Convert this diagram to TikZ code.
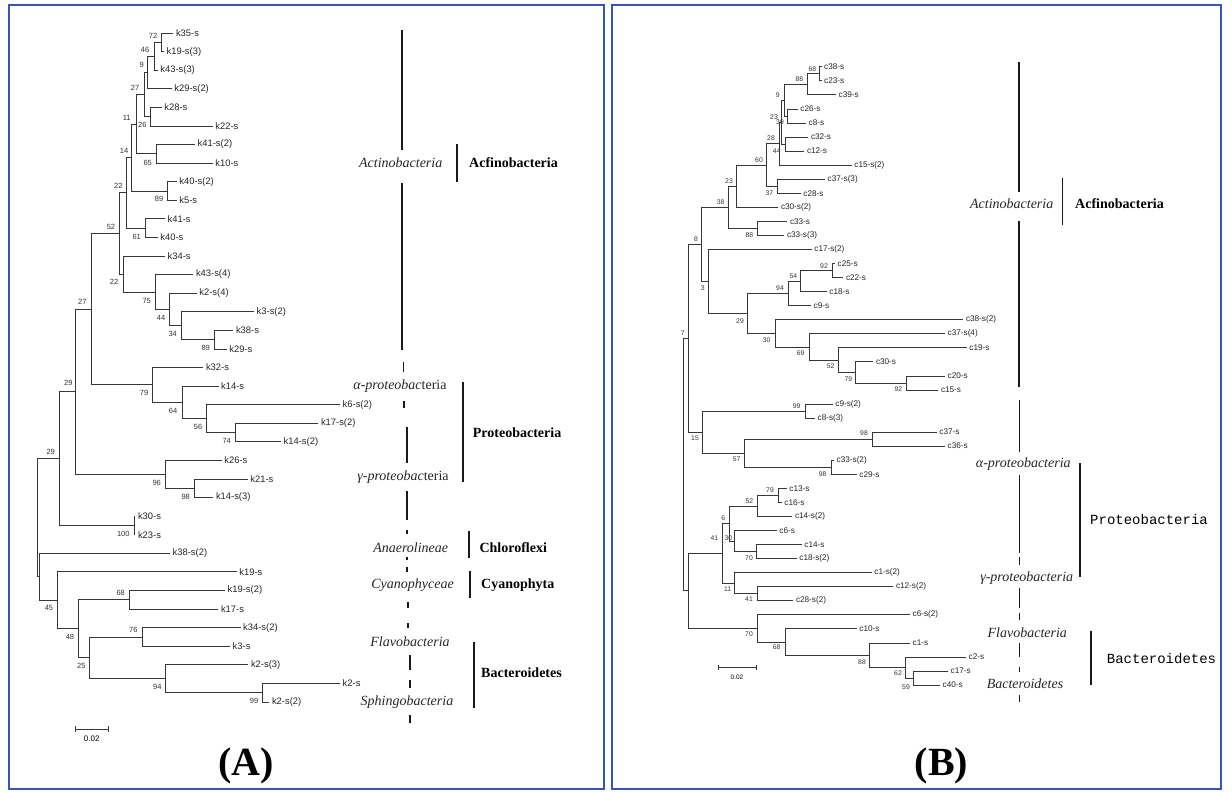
\documentclass[tikz,border=0pt]{standalone}
\usepackage{fontspec}
\setmainfont{Liberation Serif}
\newfontfamily\sansA{Liberation Sans}
\newfontfamily\monoA{Liberation Mono}
\usetikzlibrary{calc}
\definecolor{frameblue}{RGB}{55,85,185}
\definecolor{treegray}{RGB}{55,55,55}
\tikzset{
 br/.style={draw=treegray, line width=0.7pt},
 leafA/.style={anchor=west, inner sep=0pt, xshift=2.5pt, font=\sansA\fontsize{9.4}{10}\selectfont, text=black!85},
 leafB/.style={anchor=west, inner sep=0pt, xshift=2.5pt, font=\sansA\fontsize{8.2}{9}\selectfont, text=black!85},
 bsA/.style={inner sep=0pt, font=\sansA\fontsize{7.5}{8}\selectfont, text=black!80},
 bsB/.style={inner sep=0pt, font=\sansA\fontsize{6.8}{7}\selectfont, text=black!80},
 cls/.style={inner sep=0pt, font=\fontsize{14}{16}\selectfont\itshape, text=black!85},
 phy/.style={anchor=west, inner sep=0pt, font=\fontsize{14}{16}\selectfont\bfseries},
 phymono/.style={anchor=west, inner sep=0pt, font=\monoA\fontsize{14}{16}\selectfont},
 col/.style={draw=black!90, line width=1.6pt},
 frame/.style={draw=frameblue, line width=2pt},
 sclab/.style={inner sep=0pt, font=\sansA\fontsize{8}{9}\selectfont},
 panlab/.style={inner sep=0pt, font=\fontsize{40}{44}\selectfont\bfseries},
}
\newcommand\LeafA[4]{\coordinate (#1) at (#2,#3); \node[leafA] (L#1) at (#1) {#4};}
\newcommand\LeafB[4]{\coordinate (#1) at (#2,#3); \node[leafB] (L#1) at (#1) {#4};}
\newcommand\InA[7]{\path let \p1=(#3), \p2=(#4) in coordinate (#1) at (#2pt,{(\y1+\y2)/2});
 \draw[br] (#1) |- (#3); \draw[br] (#1) |- (#4); \node[bsA] (S#1) at (#5,#6) {#7};}
\newcommand\InB[7]{\path let \p1=(#3), \p2=(#4) in coordinate (#1) at (#2pt,{(\y1+\y2)/2});
 \draw[br] (#1) |- (#3); \draw[br] (#1) |- (#4); \node[bsB] (S#1) at (#5,#6) {#7};}
\newcommand\InN[4]{\path let \p1=(#3), \p2=(#4) in coordinate (#1) at (#2pt,{(\y1+\y2)/2});
 \draw[br] (#1) |- (#3); \draw[br] (#1) |- (#4);}
\begin{document}
\begin{tikzpicture}[x=1pt,y=-1pt]
\fill[white] (0,0) rectangle (1232,792);
\useasboundingbox (0,0) rectangle (1232,792);
\draw[frame] (9,5) rectangle (604,789);
\draw[frame] (612,5) rectangle (1221,789);
% ---------------- Panel A leaves
\LeafA{k35s}{173.3}{33.0}{k35-s}
\LeafA{k19s3}{164}{51.6}{k19-s(3)}
\LeafA{k43s3}{157.7}{70.2}{k43-s(3)}
\LeafA{k29s2}{171.7}{88.7}{k29-s(2)}
\LeafA{k28s}{161.7}{107.3}{k28-s}
\LeafA{k22s}{212.7}{125.9}{k22-s}
\LeafA{k41s2}{195}{144.5}{k41-s(2)}
\LeafA{k10s}{212.7}{163.1}{k10-s}
\LeafA{k40s2}{176.7}{181.6}{k40-s(2)}
\LeafA{k5s}{176.7}{200.2}{k5-s}
\LeafA{k41s}{165}{218.8}{k41-s}
\LeafA{k40s}{157.7}{237.4}{k40-s}
\LeafA{k34s}{165}{256.0}{k34-s}
\LeafA{k43s4}{193.3}{274.5}{k43-s(4)}
\LeafA{k2s4}{196.7}{293.1}{k2-s(4)}
\LeafA{k3s2}{254}{311.7}{k3-s(2)}
\LeafA{k38s}{233.3}{330.3}{k38-s}
\LeafA{k29s}{226.7}{348.9}{k29-s}
\LeafA{k32s}{203.3}{367.4}{k32-s}
\LeafA{k14s}{218.5}{386.0}{k14-s}
\LeafA{k6s2}{340}{404.6}{k6-s(2)}
\LeafA{k17s2}{318.3}{423.2}{k17-s(2)}
\LeafA{k14s2}{281}{441.8}{k14-s(2)}
\LeafA{k26s}{221.7}{460.3}{k26-s}
\LeafA{k21s}{247.7}{478.9}{k21-s}
\LeafA{k14s3}{213.3}{497.5}{k14-s(3)}
\LeafA{k30s}{135.3}{516.1}{k30-s}
\LeafA{k23s}{135.3}{534.7}{k23-s}
\LeafA{k38s2}{170}{553.2}{k38-s(2)}
\LeafA{k19s}{236.7}{571.8}{k19-s}
\LeafA{k19s2}{225}{590.4}{k19-s(2)}
\LeafA{k17s}{218.3}{609.0}{k17-s}
\LeafA{k34s2}{240.5}{627.6}{k34-s(2)}
\LeafA{k3s}{230}{646.1}{k3-s}
\LeafA{k2s3}{248.3}{664.7}{k2-s(3)}
\LeafA{k2s}{340}{683.3}{k2-s}
\LeafA{k2s2}{269.3}{701.9}{k2-s(2)}
% ---------------- Panel A internal nodes
\InA{na}{161.7}{k35s}{k19s3}{153}{36}{72}
\InA{nb}{154.3}{na}{k43s3}{145}{50}{46}
\InA{nc}{147}{nb}{k29s2}{141.7}{65}{9}
\InA{nd}{150}{k28s}{k22s}{142.3}{125}{26}
\InA{ne}{144.3}{nc}{nd}{135}{88.3}{27}
\InA{nf}{156}{k41s2}{k10s}{147.7}{163}{65}
\InA{ng}{136}{ne}{nf}{126.7}{118.3}{11}
\InA{nh}{167.3}{k40s2}{k5s}{159}{199}{89}
\InA{ni}{131.7}{ng}{nh}{124}{151}{14}
\InA{nj}{145.7}{k41s}{k40s}{136.7}{237}{61}
\InA{nk}{126.7}{ni}{nj}{118.3}{185.7}{22}
\InA{nl}{214.3}{k38s}{k29s}{205.7}{348}{89}
\InA{nm}{181.7}{k3s2}{nl}{172.7}{334}{34}
\InA{nn}{169}{k2s4}{nm}{161}{318}{44}
\InA{no}{155}{k43s4}{nn}{146.7}{301}{75}
\InA{np}{123.3}{k34s}{no}{114}{282}{22}
\InA{nq}{119.3}{nk}{np}{111}{227}{52}
\InA{nr}{235.7}{k17s2}{k14s2}{226.7}{441}{74}
\InA{ns}{206.7}{k6s2}{nr}{198}{427}{56}
\InA{nt}{182.3}{k14s}{ns}{173}{411}{64}
\InA{nu}{152.3}{k32s}{nt}{144}{393}{79}
\InA{nv}{91}{nq}{nu}{82.3}{302.3}{27}
\InA{nw}{194.3}{k21s}{k14s3}{185.7}{496.7}{98}
\InA{nx}{165.7}{k26s}{nw}{156.7}{482.7}{96}
\InA{ny}{75}{nv}{nx}{68.3}{383}{29}
\InA{nz}{134}{k30s}{k23s}{123.3}{534}{100}
\InA{nA}{59.3}{ny}{nz}{50.7}{451.7}{29}
\InA{nB}{129}{k19s2}{k17s}{120.7}{592.7}{68}
\InA{nC}{142.3}{k34s2}{k3s}{133.3}{630}{76}
\InA{nD}{262.7}{k2s}{k2s2}{254}{701}{99}
\InA{nE}{165.7}{k2s3}{nD}{157.3}{686.7}{94}
\InA{nF}{89.3}{nC}{nE}{81.3}{666}{25}
\InA{nG}{78.3}{nB}{nF}{70}{636.7}{48}
\InA{nH}{57.7}{k19s}{nG}{49}{608.3}{45}
\InN{nI}{39.3}{k38s2}{nH}
\InN{nR}{37.3}{nA}{nI}
% scale bar A
\coordinate (sa1) at (75,729); \coordinate (sa2) at (108.3,729);
\draw[br] (sa1) -- (sa2);
\draw[br] ($(sa1)+(0,-3)$) -- ($(sa1)+(0,3)$);
\draw[br] ($(sa2)+(0,-3)$) -- ($(sa2)+(0,3)$);
\node[sclab] (sclA) at (91.7,738.3) {0.02};
% ---------------- Panel A class column
\draw[col] (401.7,30) -- (401.7,150);
\node[cls] (tA1) at (400.7,162.7) {Actinobacteria};
\draw[col] (401.7,182.7) -- (401.7,350);
\draw[col] (403.3,361.7) -- (403.3,371.7);
\node[cls] (tA2) at (400,385.7) {α-proteobac{\upshape teria}};
\draw[col] (404,400.7) -- (404,408.3);
\draw[col] (406.7,426.7) -- (406.7,463.3);
\node[cls] (tA3) at (403,476.7) {γ-proteobac{\upshape teria}};
\draw[col] (406.7,491) -- (406.7,520);
\draw[col] (407,530) -- (407,534);
\node[cls] (tA4) at (410.7,547.3) {Anaerolineae};
\draw[col] (407,556.7) -- (407,560);
\draw[col] (407,567) -- (407,571.7);
\node[cls] (tA5) at (412.5,585) {Cyanophyceae};
\draw[col] (408,601.7) -- (408,608.3);
\draw[col] (408,623) -- (408,628);
\node[cls] (tA6) at (410,641.7) {Flavobacteria};
\draw[col] (410,655) -- (410,670);
\draw[col] (410,680) -- (410,688);
\node[cls] (tA7) at (407,701.7) {Sphingobacteria};
\draw[col] (410,715) -- (410,722.7);
\draw[col] (456.7,144.3) -- (456.7,181.7);
\node[phy] (pA1) at (469,162.7) {Acfinobacteria};
\draw[col] (462.7,381.7) -- (462.7,482.3);
\node[phy] (pA2) at (472.7,432.3) {Proteobacteria};
\draw[col] (469,531) -- (469,558.3);
\node[phy] (pA3) at (479.3,547.3) {Chloroflexi};
\draw[col] (470,570.7) -- (470,598.3);
\node[phy] (pA4) at (481,585) {Cyanophyta};
\draw[col] (474,642.3) -- (474,708.3);
\node[phy] (pA5) at (481,672.7) {Bacteroidetes};
\node[panlab] (labA) at (246,766) {(A)};
% ---------------- Panel B leaves
\LeafB{c38s}{821.5}{66.7}{c38-s}
\LeafB{c23s}{821.5}{80.8}{c23-s}
\LeafB{c39s}{836}{94.8}{c39-s}
\LeafB{c26s}{797.7}{108.9}{c26-s}
\LeafB{c8s}{806}{122.9}{c8-s}
\LeafB{c32s}{808.3}{137.0}{c32-s}
\LeafB{c12s}{804.3}{151.0}{c12-s}
\LeafB{c15s2}{851.7}{165.1}{c15-s(2)}
\LeafB{c37s3}{825}{179.1}{c37-s(3)}
\LeafB{c28s}{800.7}{193.2}{c28-s}
\LeafB{c30s2}{778.3}{207.2}{c30-s(2)}
\LeafB{c33s}{787.3}{221.3}{c33-s}
\LeafB{c33s3}{784.3}{235.3}{c33-s(3)}
\LeafB{c17s2}{811.7}{249.4}{c17-s(2)}
\LeafB{c25s}{835}{263.4}{c25-s}
\LeafB{c22s}{843.3}{277.5}{c22-s}
\LeafB{c18s}{826.7}{291.5}{c18-s}
\LeafB{c9s}{811}{305.6}{c9-s}
\LeafB{c38s2}{963.3}{319.6}{c38-s(2)}
\LeafB{c37s4}{945}{333.7}{c37-s(4)}
\LeafB{c19s}{966.7}{347.7}{c19-s}
\LeafB{c30s}{873.3}{361.8}{c30-s}
\LeafB{c20s}{945}{375.9}{c20-s}
\LeafB{c15s}{938.3}{389.9}{c15-s}
\LeafB{c9s2}{832.7}{404.0}{c9-s(2)}
\LeafB{c8s3}{815}{418.0}{c8-s(3)}
\LeafB{c37s}{936.7}{432.1}{c37-s}
\LeafB{c36s}{945}{446.1}{c36-s}
\LeafB{c33s2}{834}{460.2}{c33-s(2)}
\LeafB{c29s}{856.7}{474.2}{c29-s}
\LeafB{c13s}{786.7}{488.3}{c13-s}
\LeafB{c16s}{781.7}{502.3}{c16-s}
\LeafB{c14s2}{792.3}{516.4}{c14-s(2)}
\LeafB{c6s}{776.7}{530.4}{c6-s}
\LeafB{c14s}{801.7}{544.5}{c14-s}
\LeafB{c18s2}{796.7}{558.5}{c18-s(2)}
\LeafB{c1s2}{871.7}{572.6}{c1-s(2)}
\LeafB{c12s2}{893.3}{586.6}{c12-s(2)}
\LeafB{c28s2}{793.3}{600.7}{c28-s(2)}
\LeafB{c6s2}{910}{614.8}{c6-s(2)}
\LeafB{c10s}{856.7}{628.8}{c10-s}
\LeafB{c1s}{910}{642.9}{c1-s}
\LeafB{c2s}{966}{656.9}{c2-s}
\LeafB{c17s}{948}{671.0}{c17-s}
\LeafB{c40s}{940}{685.0}{c40-s}
% ---------------- Panel B internal nodes
\InB{bA}{819.3}{c38s}{c23s}{812.3}{69}{68}
\InB{bB}{807.3}{bA}{c39s}{799.3}{79.3}{88}
\InB{bC}{787.7}{c26s}{c8s}{780}{121.7}{39}
\InB{bD}{784}{bB}{bC}{777.7}{95}{9}
\InB{bE}{785}{c32s}{c12s}{776.7}{150.7}{44}
\InB{bF}{781}{bD}{bE}{774}{117.3}{23}
\InB{bG}{779}{bF}{c15s2}{771}{138.3}{28}
\InB{bH}{777.3}{c37s3}{c28s}{769.3}{192.7}{37}
\InB{bI}{766.7}{bG}{bH}{759}{160}{60}
\InB{bJ}{736.7}{bI}{c30s2}{729}{181}{23}
\InB{bK}{757.7}{c33s}{c33s3}{749.3}{235}{88}
\InB{bL}{728.3}{bJ}{bK}{720.7}{202.3}{38}
\InB{bM}{832.3}{c25s}{c22s}{824}{265.7}{92}
\InB{bN}{800.7}{bM}{c18s}{793.3}{276}{54}
\InB{bO}{788.3}{bN}{c9s}{780}{288.3}{94}
\InB{bP}{906.7}{c20s}{c15s}{898.3}{389}{92}
\InB{bQ}{855.7}{c30s}{bP}{848.3}{379}{79}
\InB{bR}{838.3}{c19s}{bQ}{830.7}{366}{52}
\InB{bS}{809}{c37s4}{bR}{800.7}{353.3}{69}
\InB{bT}{775.7}{c38s2}{bS}{766.7}{340}{30}
\InB{bU}{747.7}{bO}{bT}{740}{321}{29}
\InB{bV}{708.3}{c17s2}{bU}{702.7}{287.7}{3}
\InB{bW}{701.7}{bL}{bV}{696}{239}{8}
\InB{bX}{805}{c9s2}{c8s3}{796.7}{405.7}{99}
\InB{bY}{872.3}{c37s}{c36s}{864}{433.3}{98}
\InB{bZ}{831}{c33s2}{c29s}{822.7}{474}{98}
\InB{ba}{744}{bY}{bZ}{736.7}{459.3}{57}
\InB{bb}{702.3}{bX}{ba}{695}{438.3}{15}
\InB{bc}{688.3}{bW}{bb}{682.7}{333.3}{7}
\InB{bd}{778.3}{c13s}{c16s}{770}{490}{79}
\InB{be}{757.3}{bd}{c14s2}{749.3}{501}{52}
\InB{bf}{756.7}{c14s}{c18s2}{749}{558.3}{70}
\InB{bg}{734.3}{c6s}{bf}{728.3}{538.3}{30}
\InB{bh}{729}{be}{bg}{723.3}{518.3}{6}
\InB{bi}{757.3}{c12s2}{c28s2}{749}{599.3}{41}
\InB{bj}{734.3}{c1s2}{bi}{727.7}{589}{11}
\InB{bk}{722.3}{bh}{bj}{714.3}{538.3}{41}
\InB{bl}{913}{c17s}{c40s}{906}{687}{59}
\InB{bm}{905}{c2s}{bl}{898}{673}{62}
\InB{bn}{869.3}{c1s}{bm}{862}{661.7}{88}
\InB{bo}{785}{c10s}{bn}{776.7}{646.7}{68}
\InB{bp}{757.3}{c6s2}{bo}{749}{634.3}{70}
\InN{bq}{688.3}{bk}{bp}
\InN{br}{683.3}{bc}{bq}
% scale bar B
\coordinate (sb1) at (718.8,667.7); \coordinate (sb2) at (756.5,667.7);
\draw[br] (sb1) -- (sb2);
\draw[br] ($(sb1)+(0,-2.5)$) -- ($(sb1)+(0,2.5)$);
\draw[br] ($(sb2)+(0,-2.5)$) -- ($(sb2)+(0,2.5)$);
\node[sclab, font=\sansA\fontsize{6.5}{7}\selectfont] (sclB) at (737,677) {0.02};
% ---------------- Panel B class column
\draw[col] (1019,62) -- (1019,191.7);
\node[cls] (tB1) at (1011.7,203.3) {Actinobacteria};
\draw[col] (1019,221) -- (1019,386.7);
\draw[col] (1019.5,400) -- (1019.5,451.7);
\node[cls] (tB2) at (1023.3,464) {α-proteobacteria};
\draw[col] (1019.5,475) -- (1019.5,552.7);
\draw[col] (1019.5,556.7) -- (1019.5,565);
\node[cls] (tB3) at (1026.7,578.3) {γ-proteobacteria};
\draw[col] (1019.5,588) -- (1019.5,608);
\draw[col] (1019.5,613) -- (1019.5,620);
\node[cls] (tB4) at (1027.3,632.3) {Flavobacteria};
\draw[col] (1019.5,643) -- (1019.5,656.7);
\draw[col] (1019.5,666.7) -- (1019.5,671.7);
\node[cls] (tB5) at (1025,683.3) {Bacteroidetes};
\draw[col] (1019.5,695) -- (1019.5,702);
\draw[col] (1062.3,178.3) -- (1062.3,225);
\node[phy] (pB1) at (1075,203.3) {Acfinobacteria};
\draw[col] (1080,463.3) -- (1080,576.7);
\node[phymono] (pB2) at (1090,519.3) {Proteobacteria};
\draw[col] (1090.7,630.7) -- (1090.7,685);
\node[phymono] (pB3) at (1106.7,658.3) {Bacteroidetes};
\node[panlab] (labB) at (941.5,766) {(B)};
\end{tikzpicture}
\end{document}
